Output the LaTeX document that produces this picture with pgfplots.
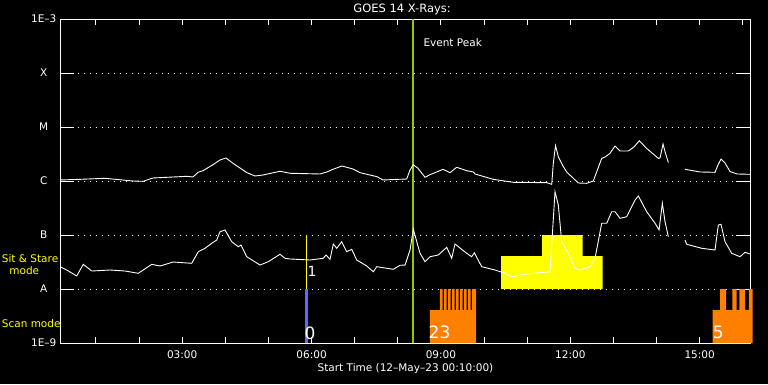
\documentclass[border=0pt]{standalone}
\usepackage{fontspec}
\setmainfont{DejaVu Sans}
\usepackage{pgfplots}
\pgfplotsset{compat=1.18}
\definecolor{evgreen}{RGB}{150,200,0}
\definecolor{scanorange}{RGB}{255,128,0}
\definecolor{ssyellow}{RGB}{255,255,0}
\definecolor{modeblue}{RGB}{100,100,255}
\newcommand\fs{\fontsize{10.5pt}{12pt}\selectfont}
\newcommand\fb{\fontsize{17pt}{17pt}\selectfont}
\begin{document}
\begin{tikzpicture}
\fill[black] (0,0) rectangle (768pt,384pt);
\begin{axis}[
  at={(60pt,41pt)}, anchor=south west,
  width=690pt, height=324pt, scale only axis,
  xmin=0.1667, xmax=16.1667, ymin=-9, ymax=-3,
  clip=false,
  axis line style={white, line width=0.9pt},
  tick style={white, line width=0.9pt},
  major tick length=14pt, minor tick length=6pt,
  tick align=inside,
  xtick={3,6,9,12,15},
  xticklabels={03:00,06:00,09:00,12:00,15:00},
  minor xtick={1,2,...,16},
  major x tick style={draw=none},
  ytick={-9,-8,...,-3},
  yticklabels={1E–9,A,B,C,M,X,1E–3},
  ymajorgrids,
  major grid style={white, line width=0.9pt, dash pattern=on 0.9pt off 5.1pt},
  ticklabel style={text=white, font=\fs},
  xticklabel style={anchor=center, yshift=-12pt},
  yticklabel style={anchor=center, xshift=-16.3pt},
  title={GOES 14 X-Rays:},
  title style={text=white, font=\fontsize{11.5pt}{13pt}\selectfont, at={(0.4957,1)}, anchor=center, yshift=3.5pt},
  xlabel={Start Time (12–May–23 00:10:00)},
  xlabel style={text=white, font=\fs, at={(0.5007,0)}, anchor=center, yshift=-25.3pt},
]
% Sit & Stare mode counts
\addplot[fill=ssyellow, draw=none] coordinates {(10.393,-8) (10.393,-7.389) (11.344,-7.389) (11.344,-7) (12.287,-7) (12.287,-7.389) (12.751,-7.389) (12.751,-8)} -- cycle;
\addplot[ssyellow, line width=1pt] coordinates {(5.887,-8) (5.887,-7)};
% Scan mode
\addplot[fill=modeblue, draw=none] coordinates {(5.848,-9) (5.848,-8) (5.918,-8) (5.918,-9)} -- cycle;
\addplot[fill=scanorange, draw=none] coordinates {(8.746,-9) (8.746,-8.389) (8.978,-8.389) (8.978,-8) (9.041,-8) (9.041,-8.389) (9.071,-8.389) (9.071,-8) (9.134,-8) (9.134,-8.389) (9.164,-8.389) (9.164,-8) (9.226,-8) (9.226,-8.389) (9.257,-8.389) (9.257,-8) (9.319,-8) (9.319,-8.389) (9.349,-8.389) (9.349,-8) (9.412,-8) (9.412,-8.389) (9.442,-8.389) (9.442,-8) (9.505,-8) (9.505,-8.389) (9.535,-8.389) (9.535,-8) (9.597,-8) (9.597,-8.389) (9.628,-8.389) (9.628,-8) (9.690,-8) (9.690,-8.389) (9.720,-8.389) (9.720,-8) (9.813,-8) (9.813,-9)} -- cycle;
\addplot[fill=scanorange, draw=none] coordinates {(15.302,-9) (15.302,-8.389) (15.471,-8.389) (15.471,-8) (15.610,-8) (15.610,-8.389) (15.757,-8.389) (15.757,-8) (15.859,-8) (15.859,-8.389) (15.919,-8.389) (15.919,-8) (16.051,-8) (16.051,-8.389) (16.143,-8.389) (16.143,-8) (16.229,-8) (16.229,-9)} -- cycle;
% Event peak
\addplot[evgreen, line width=2pt] coordinates {(8.345,-9) (8.345,-3)};
% long channel
\addplot[white, line width=0.9pt] coordinates {(0.167,-5.981) (0.631,-5.969) (1.210,-5.950) (1.859,-6.000) (2.091,-6.006) (2.323,-5.944) (2.787,-5.926) (3.112,-5.913) (3.251,-5.926) (3.367,-5.839) (3.483,-5.809) (3.715,-5.698) (3.877,-5.611) (4.016,-5.574) (4.178,-5.672) (4.503,-5.846) (4.689,-5.907) (4.874,-5.889) (5.268,-5.820) (5.500,-5.857) (6.196,-5.870) (6.358,-5.833) (6.497,-5.783) (6.706,-5.722) (6.961,-5.778) (7.124,-5.846) (7.518,-5.920) (7.657,-5.981) (8.004,-5.969) (8.206,-5.963) (8.283,-5.796) (8.359,-5.698) (8.468,-5.765) (8.631,-5.931) (8.747,-5.883) (9.048,-5.783) (9.210,-5.846) (9.366,-5.746) (9.597,-5.809) (9.751,-5.833) (9.790,-5.870) (10.214,-5.969) (10.678,-6.024) (11.452,-6.031) (11.569,-6.061) (11.606,-5.672) (11.657,-5.343) (11.722,-5.550) (11.830,-5.722) (11.916,-5.833) (12.185,-6.037) (12.380,-6.043) (12.533,-6.000) (12.728,-5.580) (12.805,-5.556) (12.921,-5.487) (13.037,-5.352) (13.153,-5.444) (13.345,-5.444) (13.477,-5.370) (13.600,-5.254) (13.772,-5.398) (14.041,-5.580) (14.080,-5.574) (14.150,-5.315) (14.196,-5.457) (14.273,-5.657)};
\addplot[white, line width=0.9pt] coordinates {(14.659,-5.783) (15.007,-5.833) (15.355,-5.839) (15.424,-5.704) (15.494,-5.593) (15.587,-5.667) (15.703,-5.824) (15.866,-5.870) (16.167,-5.876)};
% short channel
\addplot[white, line width=0.9pt] coordinates {(0.167,-7.587) (0.322,-7.648) (0.554,-7.759) (0.707,-7.543) (0.902,-7.667) (1.326,-7.648) (1.674,-7.667) (1.982,-7.709) (2.293,-7.543) (2.486,-7.574) (2.794,-7.500) (3.221,-7.524) (3.374,-7.309) (3.529,-7.246) (3.684,-7.154) (3.800,-7.093) (3.877,-6.939) (3.993,-6.907) (4.148,-7.124) (4.301,-7.217) (4.364,-7.185) (4.496,-7.402) (4.805,-7.556) (4.997,-7.494) (5.268,-7.357) (5.384,-7.431) (5.500,-7.444) (5.964,-7.463) (6.272,-7.431) (6.335,-7.370) (6.428,-7.450) (6.504,-7.167) (6.583,-7.246) (6.699,-7.124) (6.815,-7.309) (6.931,-7.265) (7.047,-7.463) (7.279,-7.574) (7.432,-7.680) (7.510,-7.587) (7.895,-7.635) (8.051,-7.561) (8.167,-7.556) (8.283,-7.278) (8.359,-6.894) (8.515,-7.339) (8.631,-7.494) (8.747,-7.402) (8.939,-7.370) (9.134,-7.228) (9.250,-7.431) (9.326,-7.167) (9.597,-7.339) (9.713,-7.402) (9.774,-7.328) (9.945,-7.587) (10.254,-7.648) (10.486,-7.709) (10.641,-7.772) (10.834,-7.741) (11.142,-7.709) (11.529,-7.680) (11.583,-7.000) (11.645,-6.198) (11.722,-6.444) (11.800,-7.124) (11.954,-7.339) (12.109,-7.617) (12.225,-7.648) (12.457,-7.587) (12.573,-7.431) (12.728,-6.783) (12.844,-6.783) (12.960,-6.569) (13.037,-6.569) (13.153,-6.691) (13.308,-6.661) (13.501,-6.352) (13.578,-6.278) (13.772,-6.569) (13.965,-6.783) (14.058,-6.907) (14.134,-6.413) (14.196,-6.754) (14.273,-7.031)};
\addplot[white, line width=0.9pt] coordinates {(14.659,-7.093) (14.698,-7.172) (15.046,-7.246) (15.355,-7.278) (15.432,-6.815) (15.494,-6.802) (15.587,-7.124) (15.742,-7.339) (15.935,-7.402) (16.051,-7.320) (16.167,-7.352)};
% annotations
\node[anchor=west, inner sep=0, text=white, font=\fs] at (axis cs:8.591,-3.439) {Event Peak};
\node[inner sep=0, text=white, font=\fontsize{14pt}{14pt}\selectfont] at (axis cs:6.01,-7.68) {1};
\node[inner sep=0, text=white, font=\fb] at (axis cs:5.964,-8.815) {0};
\node[inner sep=0, text=white, font=\fb] at (axis cs:8.967,-8.809) {23};
\node[inner sep=0, text=white, font=\fb] at (axis cs:15.43,-8.809) {5};
\end{axis}
\node[anchor=west, inner sep=0, text=ssyellow, font=\fs] at (1.7pt,125pt) {Sit \& Stare};
\node[inner sep=0, text=ssyellow, font=\fs] at (24.3pt,113.3pt) {mode};
\node[anchor=west, inner sep=0, text=ssyellow, font=\fs] at (1.7pt,60pt) {Scan mode};
\pgfresetboundingbox
\path[use as bounding box] (0,0) rectangle (768pt,384pt);
\end{tikzpicture}
\end{document}
